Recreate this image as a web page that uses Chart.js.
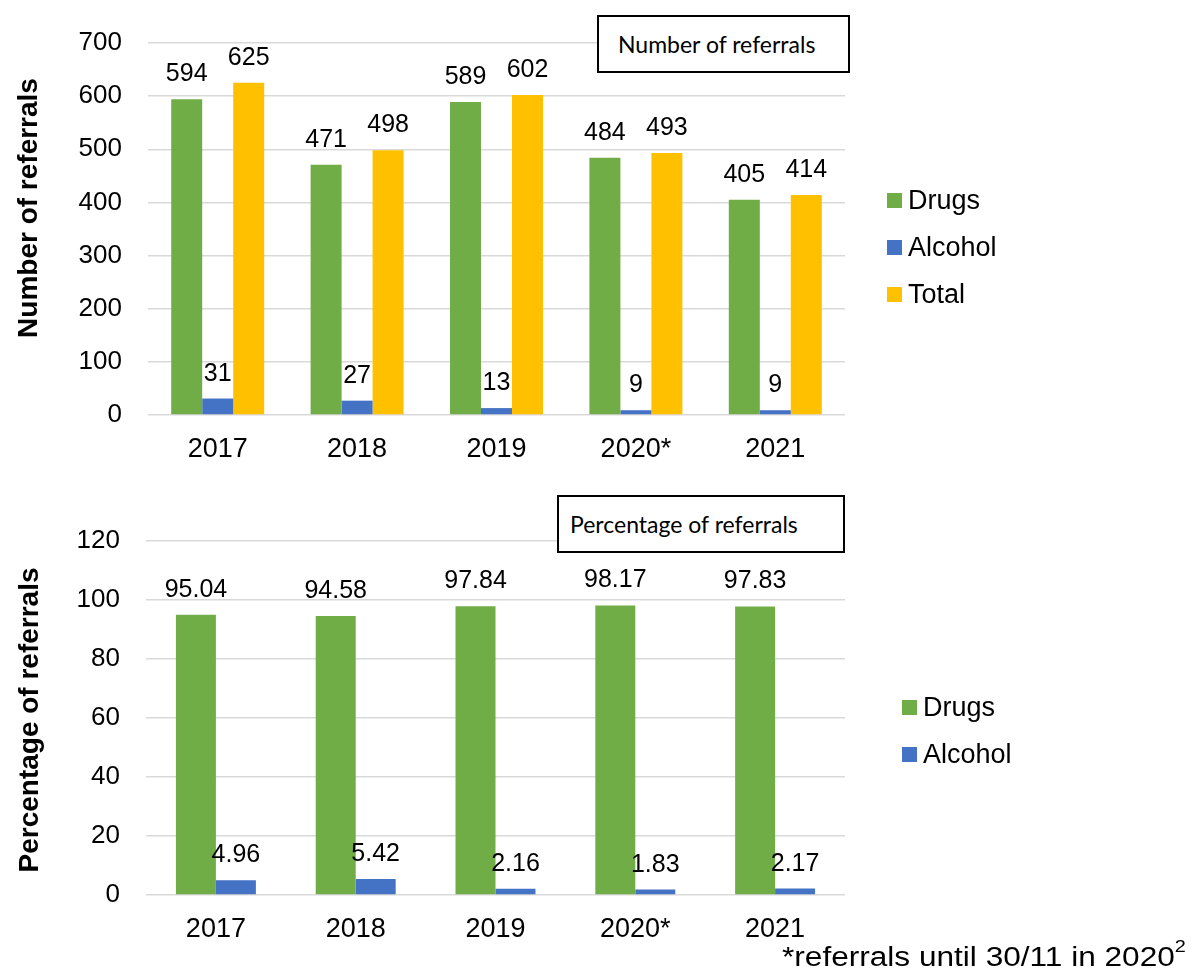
<!DOCTYPE html>
<html>
<head>
<meta charset="utf-8">
<title>Referrals 2017-2021</title>
<script src="https://cdn.jsdelivr.net/npm/chart.js@4"></script>
<style>
  body {
    margin: 0;
    background: #fff;
    width: 1196px;
    height: 974px;
    position: relative;
    overflow: hidden;
    font-family: "Liberation Sans", Arial, sans-serif;
    color: #000;
  }
  canvas { position: absolute; left: 0; }
  #countChart { top: 0; }
  #shareChart { top: 480px; }
  .boxTitle {
    position: absolute;
    box-sizing: border-box;
    border: 2px solid #000;
    background: #fff;
    font-family: Lato, "Open Sans", sans-serif;
    font-size: 23px;
    line-height: 54px;
    white-space: nowrap;
  }
  #countBox { left: 597px; top: 15px; width: 253px; height: 58px; padding-left: 19px; }
  #shareBox { left: 557px; top: 495px; width: 288px; height: 58px; padding-left: 11px; }
  #footnote {
    position: absolute;
    left: 782px;
    top: 944px;
    font-size: 27px;
    line-height: 27px;
    white-space: nowrap;
    transform: scaleX(1.17);
    transform-origin: 0 0;
  }
  #footnote sup { font-size: 17px; vertical-align: 14px; line-height: 0; }
</style>
</head>
<body>
<canvas id="countChart" width="1196" height="480"></canvas>
<canvas id="shareChart" width="1196" height="494"></canvas>
<div class="boxTitle" id="countBox">Number of referrals</div>
<div class="boxTitle" id="shareBox">Percentage of referrals</div>
<div id="footnote">*referrals until 30/11 in 2020<sup>2</sup></div>

<script>
// Data
const years = ['2017', '2018', '2019', '2020*', '2021'];
const drugCounts = [594, 471, 589, 484, 405];
const alcoholCounts = [31, 27, 13, 9, 9];
const totalCounts = [625, 498, 602, 493, 414];
const drugShares = [95.04, 94.58, 97.84, 98.17, 97.83];
const alcoholShares = [4.96, 5.42, 2.16, 1.83, 2.17];
const countAxis = { min: 0, max: 700, step: 100 };
const shareAxis = { min: 0, max: 120, step: 20 };

const GREEN = '#70AD47';
const BLUE = '#4472C4';
const GOLD = '#FFC000';
const FONT = '"Liberation Sans", Arial, sans-serif';

Chart.defaults.font.family = FONT;
Chart.defaults.color = '#000';

// Value printed above every bar
const barValueLabels = {
  id: 'barValueLabels',
  afterDatasetsDraw(chart) {
    const ctx = chart.ctx;
    ctx.save();
    ctx.font = '25px ' + FONT;
    ctx.fillStyle = '#000';
    ctx.textAlign = 'center';
    ctx.textBaseline = 'alphabetic';
    chart.data.datasets.forEach((ds, i) => {
      chart.getDatasetMeta(i).data.forEach((bar, j) => {
        ctx.fillText(String(ds.data[j]), bar.x, bar.y - 18);
      });
    });
    ctx.restore();
  }
};

// Square-swatch legend on the right of the plot
const sideLegend = {
  id: 'sideLegend',
  afterDraw(chart, args, opts) {
    const ctx = chart.ctx;
    ctx.save();
    ctx.font = '27px ' + FONT;
    ctx.textBaseline = 'middle';
    ctx.textAlign = 'left';
    chart.data.datasets.forEach((ds, i) => {
      const cy = opts.y + i * opts.gap;
      ctx.fillStyle = ds.backgroundColor;
      ctx.fillRect(opts.x, cy - 7.5, 15, 15);
      ctx.fillStyle = '#000';
      ctx.fillText(ds.label, opts.x + 21, cy + 1);
    });
    ctx.restore();
  }
};

// Rotated y-axis caption, placed by its own centre
const axisCaption = {
  id: 'axisCaption',
  afterDraw(chart, args, opts) {
    const ctx = chart.ctx;
    ctx.save();
    ctx.translate(opts.x, opts.y);
    ctx.rotate(-Math.PI / 2);
    ctx.font = 'bold 28px ' + FONT;
    ctx.fillStyle = '#000';
    ctx.textAlign = 'center';
    ctx.textBaseline = 'alphabetic';
    ctx.fillText(opts.text, 0, 0);
    ctx.restore();
  }
};

function barChart(id, datasets, axis, box, legend, caption) {
  return new Chart(document.getElementById(id), {
    type: 'bar',
    data: { labels: years, datasets: datasets },
    options: {
      responsive: false,
      animation: false,
      layout: { padding: { left: 0, top: box.top, right: box.right, bottom: 0 } },
      datasets: { bar: { categoryPercentage: box.groupWidth, barPercentage: 1 } },
      plugins: {
        legend: { display: false },
        tooltip: { enabled: false },
        sideLegend: legend,
        axisCaption: caption
      },
      scales: {
        x: {
          grid: { display: false },
          border: { display: false },
          ticks: { font: { size: 27 }, padding: 10 },
          afterFit(scale) { scale.height = box.xHeight; }
        },
        y: {
          min: axis.min,
          max: axis.max,
          ticks: { stepSize: axis.step, font: { size: 26 }, padding: 26 },
          grid: { color: '#D9D9D9', lineWidth: 1.5, drawTicks: false },
          border: { display: false },
          afterFit(scale) { scale.width = box.left; }
        }
      }
    },
    plugins: [barValueLabels, sideLegend, axisCaption]
  });
}

barChart('countChart', [
  { label: 'Drugs', data: drugCounts, backgroundColor: GREEN },
  { label: 'Alcohol', data: alcoholCounts, backgroundColor: BLUE },
  { label: 'Total', data: totalCounts, backgroundColor: GOLD }
], countAxis,
  { top: 43, right: 351, left: 148, xHeight: 65, groupWidth: 0.667 },
  { x: 887, y: 200.5, gap: 47 },
  { text: 'Number of referrals', x: 37, y: 208 });

barChart('shareChart', [
  { label: 'Drugs', data: drugShares, backgroundColor: GREEN },
  { label: 'Alcohol', data: alcoholShares, backgroundColor: BLUE }
], shareAxis,
  { top: 61, right: 351, left: 146, xHeight: 79, groupWidth: 0.572 },
  { x: 902, y: 227.5, gap: 47 },
  { text: 'Percentage of referrals', x: 38, y: 240 });
</script>
</body>
</html>
